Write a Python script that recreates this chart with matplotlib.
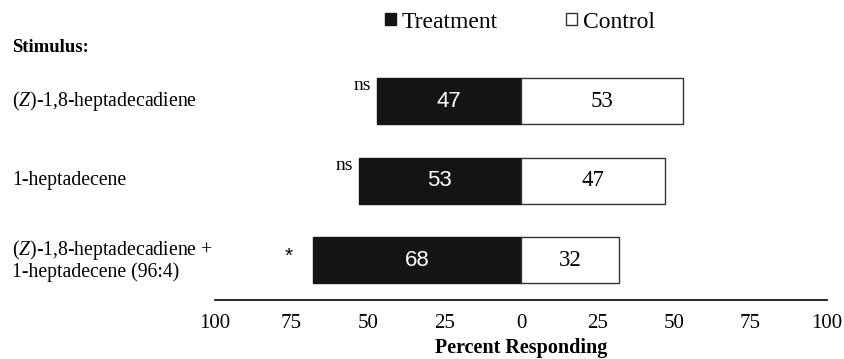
import matplotlib
matplotlib.use('Agg')
import matplotlib.pyplot as plt
from matplotlib.patches import Patch

stimuli = ['$(Z)$-1,8-heptadecadiene', '1-heptadecene',
           '$(Z)$-1,8-heptadecadiene +\n1-heptadecene (96:4)']
treatment = [47, 53, 68]
control = [53, 47, 32]
signif = ['ns', 'ns', '*']
ticks = [-100, -75, -50, -25, 0, 25, 50, 75, 100]

plt.rcParams['font.family'] = ['Liberation Serif', 'DejaVu Sans']
plt.rcParams['mathtext.fontset'] = 'custom'
plt.rcParams['mathtext.it'] = 'Liberation Serif:italic'
plt.rcParams['mathtext.rm'] = 'Liberation Serif'

W, H = 845, 359
fig = plt.figure(figsize=(W / 100, H / 100), dpi=100)
ax = fig.add_axes([215 / W, (H - 300) / H, (827 - 215) / W, 300 / H])

ypos = list(range(len(stimuli)))
bh = 0.58
ax.barh(ypos, [-t for t in treatment], height=bh, color='#141414',
        edgecolor='#141414', linewidth=1)
ax.barh(ypos, control, height=bh, color='white', edgecolor='#333333', linewidth=1)

for y, t, c, s in zip(ypos, treatment, control, signif):
    ax.text(-t / 2, y, str(t), color='white', ha='center', va='center',
            fontsize=16, family='Liberation Sans')
    ax.text(c / 2, y, str(c), color='black', ha='center', va='center', fontsize=16.5)
    if s == '*':
        ax.text(-t - 6.5, y - 0.05, s, ha='right', va='center', fontsize=15,
                family='Liberation Sans')
    else:
        ax.text(-t - 2, y - bh / 2 + 0.1, s, ha='right', va='center', fontsize=14)

ax.set_xlim(-100, 100)
ax.set_ylim(2.5, -1.27)
ax.set_xticks(ticks)
ax.set_xticklabels([str(abs(v)) for v in ticks], fontsize=15)
ax.tick_params(axis='x', length=0, pad=10)
ax.set_yticks([])
for sp in ['top', 'left', 'right']:
    ax.spines[sp].set_visible(False)
ax.spines['bottom'].set_linewidth(1.2)
ax.set_xlabel('Percent Responding', fontsize=14.5, fontweight='bold', labelpad=4)

# stimulus labels on the left
fig.text(12 / W, 1 - 48 / H, 'Stimulus:', fontsize=13.5, fontweight='bold', va='center')
for y, name in zip(ypos, stimuli):
    yd = ax.transData.transform((0, y))[1]
    yf = fig.transFigure.inverted().transform((0, yd))[1]
    fig.text(12 / W, yf, name, fontsize=14.2, va='center', linespacing=1.05)

handles = [Patch(facecolor='#141414', edgecolor='#141414', label='Treatment'),
           Patch(facecolor='white', edgecolor='#333333', label='Control')]
fig.legend(handles=handles, loc='center', bbox_to_anchor=(520 / W, 1 - 22 / H),
           ncol=2, frameon=False, fontsize=17, handlelength=0.45, handleheight=0.45,
           handletextpad=0.25, columnspacing=2.9)

fig.savefig('out.png', dpi=100)
